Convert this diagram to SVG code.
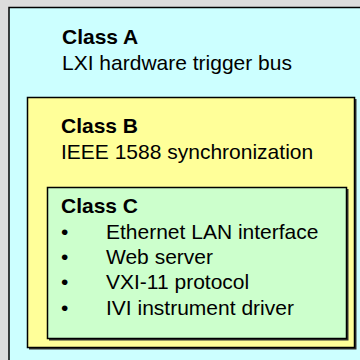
<svg xmlns="http://www.w3.org/2000/svg" width="360" height="360" viewBox="0 0 360 360">
<style>
.box{stroke:#000;stroke-width:1.5}
.shadow{fill:#333}
.t{font-family:"Liberation Sans",Arial,sans-serif;font-size:21px;fill:#000}
.b{font-weight:bold}
</style>
<rect x="0" y="0" width="360" height="360" fill="#dcdcdc"/>
<g id="classA">
<rect class="box" x="9" y="7.5" width="360" height="360" fill="#ccffff"/>
<text class="t b" x="62" y="44">Class A</text>
<text class="t" x="62" y="70">LXI hardware trigger bus</text>
</g>
<g id="classB">
<rect class="shadow" x="29" y="99" width="327.5" height="250.5"/>
<rect class="box" x="27.5" y="97.5" width="327" height="250" fill="#ffff99"/>
<text class="t b" x="61" y="133">Class B</text>
<text class="t" x="61" y="159">IEEE 1588 synchronization</text>
</g>
<g id="classC">
<rect class="shadow" x="49" y="189" width="299.5" height="151.5"/>
<rect class="box" x="47.5" y="187.5" width="299" height="151" fill="#ccffcc"/>
<text class="t b" x="61" y="213">Class C</text>
<text class="t" x="61" y="239">•</text>
<text class="t" x="106" y="239">Ethernet LAN interface</text>
<text class="t" x="61" y="264">•</text>
<text class="t" x="106" y="264">Web server</text>
<text class="t" x="61" y="289">•</text>
<text class="t" x="106" y="289">VXI-11 protocol</text>
<text class="t" x="61" y="315">•</text>
<text class="t" x="106" y="315">IVI instrument driver</text>
</g>
</svg>
